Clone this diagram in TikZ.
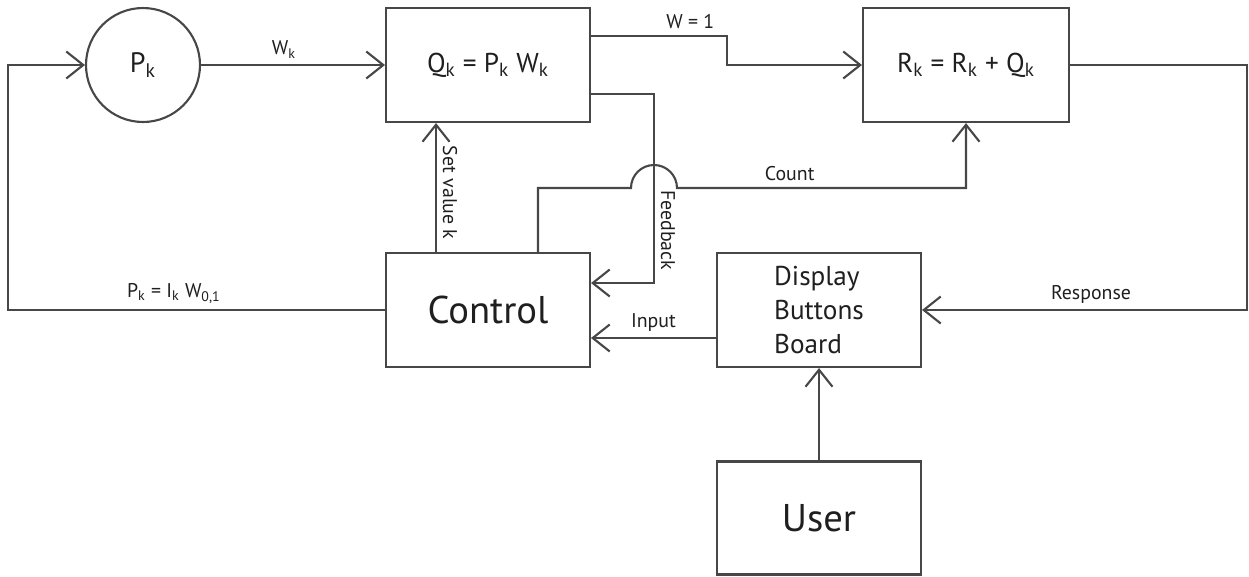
\documentclass[tikz,border=0pt]{standalone}
\usepackage{fontspec}
\setmainfont{PT Sans}
\usetikzlibrary{arrows.meta}
\colorlet{linec}{black!72}
\colorlet{textc}{black!88}
\newcommand{\subk}{\textsubscript{k}}

\begin{document}
\begin{tikzpicture}[
  x=0.02cm, y=-0.02cm,
  line width=1.2pt, color=linec,
  box/.style={draw=linec, minimum width=4.08cm, minimum height=2.28cm, inner sep=0pt, text=textc},
  eq/.style={font=\fontsize{15.5}{19}\selectfont},
  big/.style={font=\fontsize{22}{26}\selectfont},
  arrow/.style={-{Straight Barb[length=3.4mm,width=5.4mm]}},
  lbl/.style={font=\fontsize{11.3}{13}\selectfont, text=textc},
  vlbl/.style={lbl, rotate=-90, anchor=south}
]
\useasboundingbox (0,0) rectangle (1249,576);

\node[circle, draw=linec, minimum size=2.28cm, inner sep=0pt, text=textc, font=\fontsize{16}{19}\selectfont] (pk) at (143,65) {P\subk};
\node[box, eq] (qbox) at (488,65) {Q\subk{} = P\subk{} W\subk};
\node[box, eq, minimum width=4.12cm] (rbox) at (966,65) {R\subk{} = R\subk{} + Q\subk};
\node[box, big] (control) at (488,310) {Control};
\node[box, align=left, font=\fontsize{15.5}{19.5}\selectfont] (display) at (819,310) {Display\\Buttons\\Board};
\node[box, big, minimum height=2.26cm] (user) at (819,518) {User};

\coordinate (loopL) at (8,310);
\coordinate (wstep) at (727,36);
\coordinate (fbk) at (654,94);
\coordinate (jump) at (631,188);
\coordinate (rightR) at (1247,65);

\draw[arrow] (control.west) -- node[lbl, above, pos=0.56] {P\subk{} = I\subk{} W\textsubscript{0,1}} (loopL) |- (pk.west);
\draw[arrow] (pk.east) -- node[lbl, above, pos=0.45] {W\subk} (qbox.west);
\draw[arrow] (qbox.east |- wstep) -- node[lbl, above, pos=0.73] {W = 1} (wstep) |- (rbox.west);
\draw[arrow] (qbox.east |- fbk) -- (fbk) |- node[vlbl, pos=0.36] {Feedback} ([yshift=0.54cm]control.east);
\draw[arrow] ([xshift=-1.04cm]control.north) -- node[vlbl, pos=0.46] {Set value k} ([xshift=-1.04cm]qbox.south);
\draw[arrow] ([xshift=1cm]control.north) |- (jump) arc[start angle=180, end angle=0, radius=0.46cm]
  -- node[lbl, above, pos=0.39] {Count} (jump -| rbox.south) -- (rbox.south);
\draw[arrow] (rbox.east) -- (rightR) |- node[lbl, above, pos=0.74] {Response} (display.east);
\draw[arrow] ([yshift=-0.56cm]display.west) -- node[lbl, above] {Input} ([yshift=-0.56cm]control.east);
\draw[arrow] (user.north) -- (display.south);
\end{tikzpicture}
\end{document}
